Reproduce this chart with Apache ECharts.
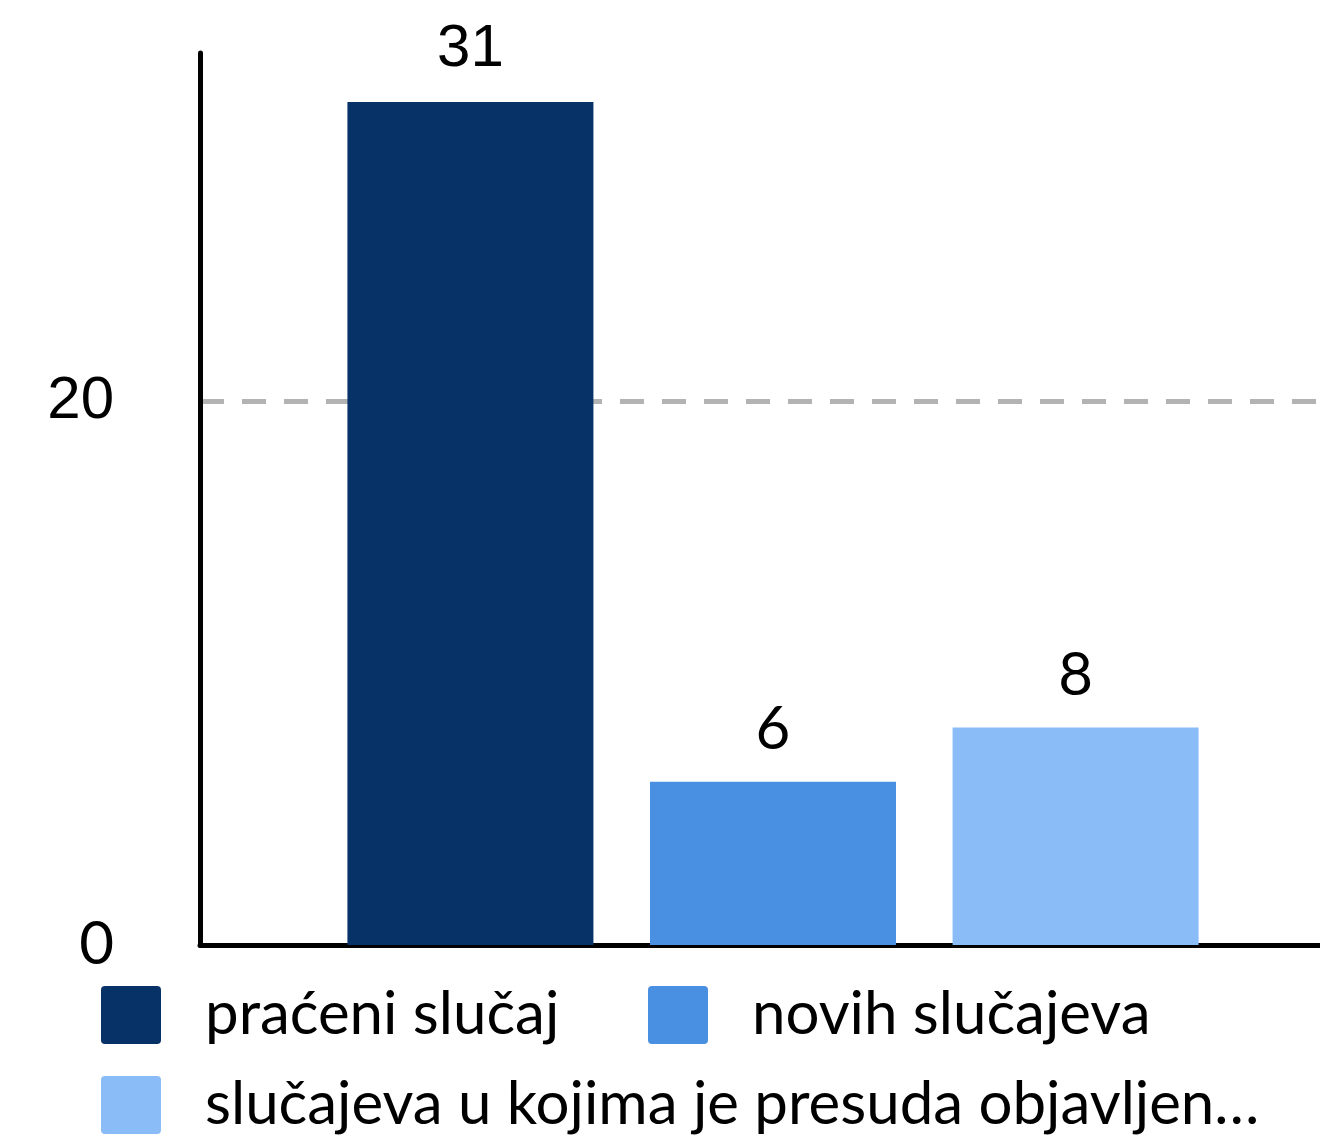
<!DOCTYPE html>
<html>
<head>
<meta charset="utf-8">
<title>slučajevi</title>
<script src="https://cdn.jsdelivr.net/npm/echarts@6/dist/echarts.min.js"></script>
<style>
    html, body {
        margin: 0;
        padding: 0;
        background-color: #fff;
    }

    /* 图表容器 */
    #main {
        width: 1320px;
        height: 1135px;
    }
</style>
</head>
<body>
<div id="main"></div>
<script>
    // 分类（只有一组）
    var categories = ['ukupno'];
    // 系列名称
    var seriesNames = ['praćeni slučaj', 'novih slučajeva', 'slučajeva u kojima je presuda objavljen…'];
    // 各系列数值
    var pracenValues = [31];
    var noviValues = [6];
    var presudaValues = [8];
    // 纵轴显示的刻度
    var yTicks = [0, 20];

    var colors = ['#073268', '#4a90e2', '#8abcf8'];
    var seriesValues = [pracenValues, noviValues, presudaValues];

    var myChart = echarts.init(document.getElementById('main'));

    // 柱子系列
    var series = seriesNames.map(function (name, i) {
        return {
            name: name,
            type: 'bar',
            data: seriesValues[i],
            barWidth: 246,
            barGap: '23%',
            itemStyle: { color: colors[i] },
            label: {
                show: true,
                position: 'top',
                distance: 22,
                color: '#000',
                fontSize: 60,
                fontFamily: i === 0 ? 'Liberation Sans' : 'Lato'
            }
        };
    });

    var option = {
        backgroundColor: '#fff',
        animation: false,
        grid: {
            left: 200,
            top: 53,
            width: 1146,
            height: 892,
            outerBoundsMode: 'none'
        },
        xAxis: {
            type: 'category',
            data: categories,
            axisLine: { show: true, lineStyle: { color: '#000', width: 5 } },
            axisTick: { show: false },
            axisLabel: { show: false },
            splitLine: { show: false }
        },
        yAxis: {
            type: 'value',
            min: 0,
            max: 32.8,
            interval: 20,
            axisLine: { show: true, lineStyle: { color: '#000', width: 5 } },
            axisTick: { show: false },
            axisLabel: {
                margin: 86,
                showMaxLabel: false,
                formatter: function (v) {
                    if (yTicks.indexOf(v) < 0) return '';
                    return v === 20 ? '{a|' + v + '}' : '{b|' + v + '}';
                },
                rich: {
                    a: { fontFamily: 'Liberation Sans', fontSize: 60, color: '#000' },
                    b: { fontFamily: 'Lato', fontSize: 60, color: '#000' }
                }
            },
            splitLine: {
                show: true,
                showMinLine: false,
                showMaxLine: false,
                lineStyle: { color: '#b3b3b3', width: 5, type: [24, 18] }
            }
        },
        legend: {
            left: 96,
            top: 980,
            right: 0,
            itemWidth: 60,
            itemHeight: 58,
            itemGap: 30,
            icon: 'path://M4,0H56Q60,0 60,4V54Q60,58 56,58H4Q0,58 0,54V4Q0,0 4,0Z',
            textStyle: {
                fontFamily: 'Lato',
                fontSize: 60,
                lineHeight: 60,
                color: '#000',
                padding: [0, 0, 0, 39]
            },
            data: [
                { name: seriesNames[0], textStyle: { width: 413 } },
                { name: seriesNames[1] },
                { name: seriesNames[2] }
            ]
        },
        series: series
    };

    myChart.setOption(option);
</script>
</body>
</html>
